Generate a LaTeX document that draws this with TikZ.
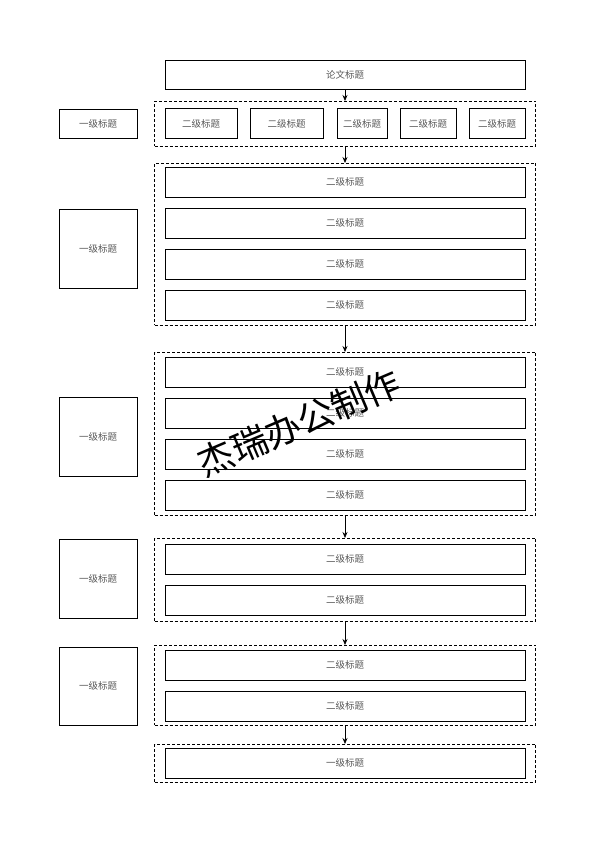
\documentclass[tikz,border=0pt]{standalone}
\usepackage{fontspec}
\newfontfamily\cjk{Noto Sans CJK SC}
\usetikzlibrary{arrows.meta}

\begin{document}
\begin{tikzpicture}[x=1pt, y=-1pt,
  box/.style={draw, line width=0.8pt, inner sep=0pt, outer sep=0pt, minimum height=30pt,
    text=black!65, font=\cjk\fontsize{9.5}{10}\selectfont},
  wide/.style={box, minimum width=360pt},
  grp/.style={draw, line width=0.8pt, dash pattern=on 3pt off 2pt, inner sep=0pt, outer sep=0pt, minimum width=381pt},
  link/.style={-{Stealth[length=6pt, width=5pt]}, line width=0.7pt}]
\useasboundingbox (0,0) rectangle (594,841);
% title
\node[wide, minimum height=29pt] (t) at (345,74.5) {论文标题};
% row 1
\node[box, minimum width=78pt, minimum height=29pt] (l1) at (98,123.5) {一级标题};
\node[grp, minimum height=45pt] (g1) at (345,123.5) {};
\node[box, minimum width=72pt] (s11) at (201,123.5) {二级标题};
\node[box, minimum width=73pt] (s12) at (286.5,123.5) {二级标题};
\node[box, minimum width=50pt] (s13) at (362,123.5) {二级标题};
\node[box, minimum width=56pt] (s14) at (428,123.5) {二级标题};
\node[box, minimum width=56pt] (s15) at (497,123.5) {二级标题};
% row 2
\node[box, minimum width=78pt, minimum height=79pt] (l2) at (98,248.5) {一级标题};
\node[grp, minimum height=162pt] (g2) at (345,244) {};
\node[wide] (s21) at (345,182) {二级标题};
\node[wide] (s22) at (345,223) {二级标题};
\node[wide] (s23) at (345,264) {二级标题};
\node[wide] (s24) at (345,305) {二级标题};
% row 3
\node[box, minimum width=78pt, minimum height=79pt] (l3) at (98,436.5) {一级标题};
\node[grp, minimum height=163pt] (g3) at (345,433.5) {};
\node[wide] (s31) at (345,372) {二级标题};
\node[wide] (s32) at (345,413) {二级标题};
\node[wide] (s33) at (345,454) {二级标题};
\node[wide] (s34) at (345,495) {二级标题};
% row 4
\node[box, minimum width=78pt, minimum height=79pt] (l4) at (98,578.5) {一级标题};
\node[grp, minimum height=83pt] (g4) at (345,579.5) {};
\node[wide] (s41) at (345,559) {二级标题};
\node[wide] (s42) at (345,600) {二级标题};
% row 5
\node[box, minimum width=78pt, minimum height=78pt] (l5) at (98,686) {一级标题};
\node[grp, minimum height=80pt] (g5) at (345,685) {};
\node[wide] (s51) at (345,665) {二级标题};
\node[wide] (s52) at (345,706) {二级标题};
% last
\node[grp, minimum height=38pt] (g6) at (345,763) {};
\node[wide] (s61) at (345,763) {一级标题};
% arrows
\draw[link] (t) -- (g1);
\draw[link] (g1) -- (g2);
\draw[link] (g2) -- (g3);
\draw[link] (g3) -- (g4);
\draw[link] (g4) -- (g5);
\draw[link] (g5) -- (g6);
% watermark
\node[rotate=23, font=\cjk\fontsize{36}{36}\selectfont] (wm) at (299,423) {杰瑞办公制作};
\end{tikzpicture}
\end{document}
